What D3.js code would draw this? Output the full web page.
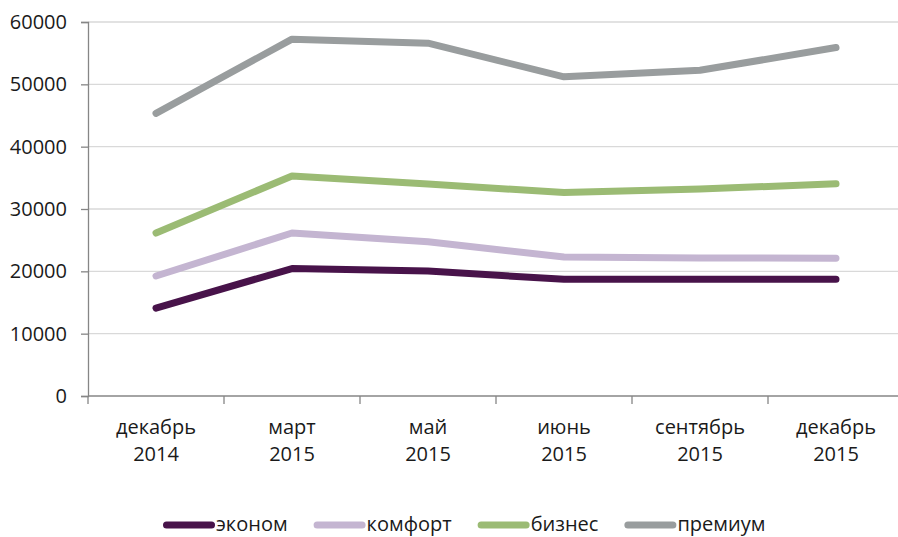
<!DOCTYPE html>
<html>
<head>
<meta charset="utf-8">
<script src="https://cdn.jsdelivr.net/npm/d3@7"></script>
<style>
  html, body { margin: 0; padding: 0; background: #fff; }
  svg { display: block; font-family: "Open Sans", "Noto Sans", sans-serif; }
</style>
</head>
<body>
<svg id="chart" width="898" height="537"></svg>
<script>
// Periods (two-line labels: month / year)
const periods = ["декабрь 2014", "март 2015", "май 2015", "июнь 2015", "сентябрь 2015", "декабрь 2015"];

// Price series by class
const econom  = [14100, 20450, 20050, 18720, 18720, 18720];
const comfort = [19250, 26150, 24750, 22300, 22150, 22100];
const biznes  = [26150, 35300, 34000, 32650, 33200, 34050];
const premium = [45350, 57250, 56600, 51200, 52250, 55900];

const seriesNames = ["эконом", "комфорт", "бизнес", "премиум"];
const seriesColors = ["#48134a", "#c4b5d1", "#9bbb74", "#999d9e"];
const yTicks = [0, 10000, 20000, 30000, 40000, 50000, 60000];

const series = [econom, comfort, biznes, premium].map((values, i) => ({
  name: seriesNames[i], color: seriesColors[i], values
}));

const svg = d3.select("#chart");
const W = 898;
const plotLeft = 88, plotTop = 22, plotBottom = 396, plotRightEnd = 904;

const x = d3.scaleBand().domain(periods).range([plotLeft, plotRightEnd]).padding(0);
const y = d3.scaleLinear().domain([0, 60000]).range([plotBottom, plotTop]);
const cx = d => x(d) + x.bandwidth() / 2;

// Horizontal gridlines
svg.append("g")
  .selectAll("line")
  .data(yTicks.filter(t => t > 0))
  .join("line")
  .attr("x1", plotLeft).attr("x2", W)
  .attr("y1", d => y(d)).attr("y2", d => y(d))
  .attr("stroke", "#d9d9d9").attr("stroke-width", 1.3);

// Y axis
const yAxis = svg.append("g")
  .attr("transform", `translate(${plotLeft},0)`)
  .call(d3.axisLeft(y).tickValues(yTicks).tickSize(7).tickPadding(14).tickFormat(d3.format("d")));
yAxis.select(".domain").attr("stroke", "#868686").attr("stroke-width", 1.3);
yAxis.selectAll(".tick line").attr("stroke", "#868686").attr("stroke-width", 1.3);
yAxis.selectAll(".tick text")
  .attr("font-size", 20).attr("fill", "#1a1a1a")
  .attr("font-family", "Open Sans, sans-serif");

// X axis baseline with tick marks at category boundaries
const xg = svg.append("g");
xg.append("line")
  .attr("x1", plotLeft).attr("x2", W)
  .attr("y1", y(0)).attr("y2", y(0))
  .attr("stroke", "#868686").attr("stroke-width", 1.3);
xg.selectAll("line.tk")
  .data(periods.concat([null]))
  .join("line")
  .attr("class", "tk")
  .attr("x1", d => d === null ? x.range()[1] : x(d))
  .attr("x2", d => d === null ? x.range()[1] : x(d))
  .attr("y1", y(0)).attr("y2", y(0) + 8)
  .attr("stroke", "#868686").attr("stroke-width", 1.3);

// Category labels on two lines
const lbl = xg.selectAll("text.cat")
  .data(periods)
  .join("text")
  .attr("class", "cat")
  .attr("text-anchor", "middle")
  .attr("font-size", 20)
  .attr("fill", "#1a1a1a");
lbl.each(function(d) {
  const parts = d.split(" ");
  const t = d3.select(this);
  t.append("tspan").attr("x", cx(d)).attr("y", 434).text(parts[0]);
  t.append("tspan").attr("x", cx(d)).attr("y", 461).text(parts[1]);
});

// Lines
const line = d3.line()
  .x((v, i) => cx(periods[i]))
  .y(v => y(v));

svg.append("g")
  .selectAll("path")
  .data(series)
  .join("path")
  .attr("d", s => line(s.values))
  .attr("fill", "none")
  .attr("stroke", s => s.color)
  .attr("stroke-width", 7)
  .attr("stroke-linecap", "round")
  .attr("stroke-linejoin", "round");

// Legend: swatch + label, items laid out left to right
const legend = svg.append("g");
const swatchLen = 52, itemGap = 26, legendY = 525;
let lx = 163;
series.forEach(s => {
  const g = legend.append("g").attr("transform", `translate(${lx},${legendY})`);
  g.append("line")
    .attr("x1", 3.5).attr("x2", swatchLen - 3.5).attr("y1", 0).attr("y2", 0)
    .attr("stroke", s.color).attr("stroke-width", 7)
    .attr("stroke-linecap", "round");
  const t = g.append("text")
    .attr("x", swatchLen + 1).attr("y", 6)
    .attr("font-size", 20).attr("fill", "#1a1a1a")
    .text(s.name);
  lx += swatchLen + 1 + t.node().getComputedTextLength() + itemGap;
});
</script>
</body>
</html>
